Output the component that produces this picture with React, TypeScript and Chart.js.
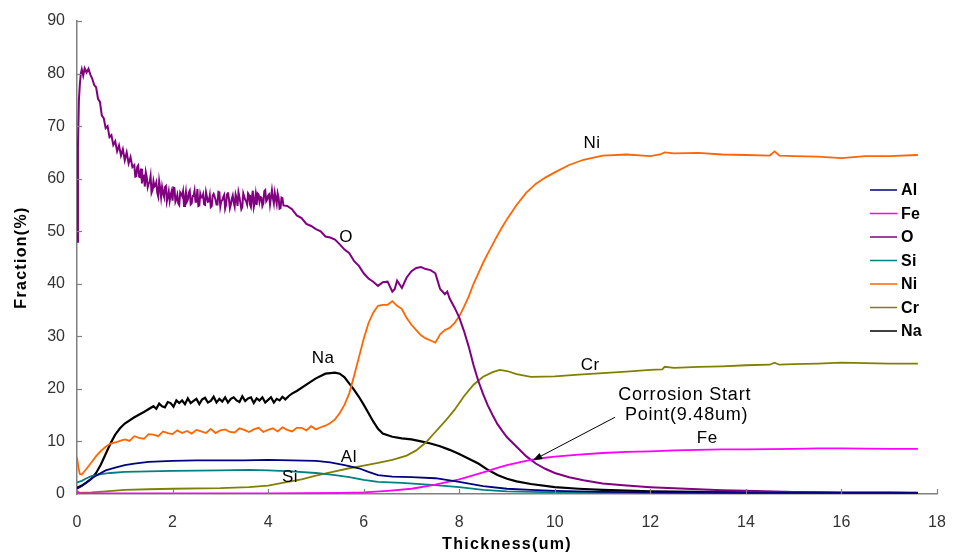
import React, { useEffect, useRef } from "react";
import { Chart, registerables } from "chart.js";

Chart.register(...registerables);

// ---- axis ranges / ticks ----
const X_MIN = 0;
const X_MAX = 18;
const X_STEP = 2;
const Y_MIN = 0;
const Y_MAX = 90;
const Y_STEP = 10;

const X_TITLE = "Thickness(um)";
const Y_TITLE = "Fraction(%)";

// ---- series data: [thickness(um), fraction(%)] ----
const aluminium: [number, number][] = [
  [0, 1.0], [0.1, 1.5], [0.2, 2.2], [0.3, 2.9], [0.4, 3.5], [0.5, 4.0], [0.6, 4.5], [0.8, 5.0],
  [1.0, 5.5], [1.2, 5.8], [1.5, 6.1], [2.0, 6.3], [2.5, 6.4], [3.0, 6.4], [3.5, 6.4], [4.0, 6.5],
  [4.5, 6.4], [5.0, 6.3], [5.3, 6.0], [5.6, 5.5], [5.9, 4.9], [6.1, 4.2], [6.3, 3.6], [6.6, 3.3],
  [7.0, 3.2], [7.5, 3.0], [8.0, 2.3], [8.5, 1.5], [9.0, 1.0], [9.5, 0.8], [10, 0.6], [11, 0.4],
  [12, 0.3], [14, 0.2], [17.6, 0.2],
];

const iron: [number, number][] = [
  [0, 0.6], [0.05, 0.1], [0.5, 0.1], [2, 0.1], [4, 0.1], [5.5, 0.2], [6.0, 0.3], [6.5, 0.6],
  [7.0, 1.0], [7.5, 1.8], [8.0, 2.8], [8.5, 4.1], [8.85, 5.1], [9.0, 5.5], [9.3, 6.1], [9.5, 6.5],
  [9.8, 6.9], [10.0, 7.1], [10.5, 7.5], [11.0, 7.8], [11.5, 8.0], [12.0, 8.1], [12.5, 8.3],
  [13.0, 8.4], [13.5, 8.5], [14.0, 8.5], [15.0, 8.6], [15.5, 8.7], [16.0, 8.7], [17.0, 8.6], [17.6, 8.6],
];

const oxygen: [number, number][] = [
  [0, 48], [0.02, 66], [0.04, 75], [0.06, 78], [0.08, 80], [0.1, 80.8], [0.13, 79.6], [0.16, 81],
  [0.2, 80.2], [0.24, 80.9], [0.28, 79.8], [0.32, 79], [0.36, 77.8],
  [0.4, 77.4], [0.44, 75.2], [0.48, 74.6], [0.52, 72.0], [0.56, 71.5], [0.6, 69.6], [0.64, 70.0],
  [0.68, 67.9], [0.72, 68.3], [0.76, 66.4], [0.8, 67.1], [0.84, 65.2], [0.88, 66.3], [0.92, 64.4],
  [0.96, 65.6], [1.0, 63.5], [1.04, 65.0], [1.08, 62.9], [1.12, 64.1], [1.16, 62.2],
  [1.20, 62.6], [1.22, 60.4], [1.24, 60.5], [1.26, 62.2], [1.28, 62.5], [1.30, 60.4], [1.32, 60.3],
  [1.34, 61.9], [1.36, 59.1], [1.38, 60.6], [1.40, 60.6], [1.42, 58.5], [1.44, 61.2], [1.46, 60.3],
  [1.48, 58.4], [1.50, 59.1], [1.52, 59.3], [1.54, 60.5], [1.56, 57.3], [1.58, 57.8], [1.60, 59.5],
  [1.62, 58.5], [1.64, 58.7], [1.66, 59.3], [1.68, 57.3], [1.70, 56.6], [1.72, 59.5], [1.74, 58.2],
  [1.76, 56.5], [1.78, 58.4], [1.80, 57.2], [1.82, 56.6], [1.84, 58.4], [1.86, 58.6], [1.88, 55.7],
  [1.90, 56.6], [1.92, 57.6], [1.94, 55.8], [1.96, 56.9], [1.98, 57.6], [2.00, 55.8], [2.02, 58.3],
  [2.04, 58.2], [2.06, 55.6], [2.08, 56.1], [2.10, 56.9], [2.12, 55.3], [2.14, 55.0], [2.16, 57.4],
  [2.18, 57.1], [2.20, 56.7], [2.22, 57.6], [2.24, 54.8], [2.26, 56.1], [2.28, 57.5], [2.30, 55.6],
  [2.32, 56.0], [2.34, 57.3], [2.36, 57.7], [2.38, 55.1], [2.40, 55.3], [2.42, 56.7], [2.44, 56.7],
  [2.46, 57.7], [2.48, 55.6], [2.50, 55.6], [2.52, 58.0], [2.54, 54.8], [2.56, 54.9], [2.58, 57.1],
  [2.60, 56.4], [2.62, 56.4], [2.64, 57.0], [2.66, 55.1], [2.68, 55.0], [2.70, 57.4], [2.72, 57.4],
  [2.74, 55.6], [2.76, 55.7], [2.78, 56.8], [2.80, 54.6], [2.82, 54.8], [2.84, 56.8], [2.86, 57.1],
  [2.88, 56.6], [2.90, 56.0], [2.92, 55.1], [2.94, 55.1], [2.96, 57.5], [2.98, 57.4], [3.00, 54.7],
  [3.02, 55.7], [3.04, 55.9], [3.06, 56.5], [3.08, 56.9], [3.10, 54.3], [3.12, 55.0], [3.14, 57.0],
  [3.16, 57.4], [3.18, 56.1], [3.20, 54.4], [3.22, 55.1], [3.24, 56.2], [3.26, 56.8], [3.28, 55.5],
  [3.30, 54.7], [3.32, 57.0], [3.34, 56.3], [3.36, 54.8], [3.38, 57.4], [3.40, 56.5], [3.42, 55.4],
  [3.44, 54.2], [3.46, 54.6], [3.48, 57.2], [3.50, 56.6], [3.52, 56.0], [3.54, 55.7], [3.56, 55.1],
  [3.58, 57.2], [3.60, 56.9], [3.62, 55.1], [3.64, 54.6], [3.66, 56.4], [3.68, 57.7], [3.70, 54.6],
  [3.72, 55.5], [3.74, 57.0], [3.76, 55.0], [3.78, 57.2], [3.80, 57.0], [3.82, 55.6], [3.84, 56.5],
  [3.86, 56.4], [3.88, 54.8], [3.90, 55.3], [3.92, 57.6], [3.94, 57.8], [3.96, 55.7], [3.98, 56.0],
  [4.00, 56.8], [4.02, 57.0], [4.04, 55.1], [4.06, 55.1], [4.08, 57.8], [4.10, 56.3], [4.12, 55.3],
  [4.14, 57.3], [4.16, 56.2], [4.18, 55.2], [4.20, 57.2], [4.22, 56.4], [4.24, 54.3], [4.26, 54.4],
  [4.28, 56.4], [4.30, 56.3], [4.32, 54.9],
  [4.4, 54.8], [4.5, 54.2], [4.6, 53.0], [4.7, 52.5], [4.8, 51.4],
  [4.9, 51.0], [5.0, 50.4], [5.1, 50.0], [5.2, 49.0], [5.3, 48.8], [5.4, 48.4], [5.5, 47.5],
  [5.6, 46.5], [5.7, 45.8], [5.8, 44.3], [5.9, 43.4], [6.0, 42.0], [6.1, 41.0], [6.2, 40.4],
  [6.3, 39.6], [6.4, 40.3], [6.5, 40.4], [6.6, 38.5], [6.65, 39.0], [6.7, 40.6], [6.8, 39.2],
  [6.9, 41.2], [7.0, 42.4], [7.1, 43.0], [7.2, 43.2], [7.3, 42.8], [7.4, 42.6], [7.5, 42.0],
  [7.55, 40.5], [7.6, 39.0], [7.7, 38.0], [7.75, 38.5], [7.8, 37.2], [7.9, 35.5], [8.0, 33.6],
  [8.1, 31.0], [8.2, 28.0], [8.3, 24.5], [8.4, 21.5], [8.5, 19.0], [8.6, 16.8], [8.7, 15.0],
  [8.8, 13.3], [8.9, 12.0], [9.0, 10.8], [9.2, 9.0], [9.4, 7.2], [9.6, 5.8], [9.8, 4.8],
  [10.0, 4.0], [10.3, 3.2], [10.6, 2.6], [11.0, 2.0], [11.5, 1.6], [12.0, 1.3], [12.5, 1.1],
  [13.0, 0.9], [13.5, 0.7], [14.0, 0.6], [15.0, 0.4], [16.0, 0.3], [17.0, 0.3], [17.6, 0.2],
];

const silicon: [number, number][] = [
  [0, 2.2], [0.1, 2.5], [0.2, 3.0], [0.3, 3.4], [0.5, 3.8], [0.7, 4.0], [1.0, 4.2], [1.5, 4.3],
  [2.0, 4.4], [3.0, 4.5], [3.6, 4.6], [4.0, 4.5], [4.5, 4.3], [5.0, 4.0], [5.4, 3.6], [5.7, 3.2],
  [6.0, 2.7], [6.3, 2.3], [6.8, 2.1], [7.5, 1.7], [8.0, 1.3], [8.5, 0.8], [9.0, 0.5], [10, 0.3],
  [12, 0.2], [17.6, 0.1],
];

const nickel: [number, number][] = [
  [0, 7], [0.03, 5], [0.06, 3.8], [0.1, 3.7], [0.2, 4.8], [0.3, 6], [0.4, 7.2], [0.5, 8.2],
  [0.6, 9.0], [0.7, 9.6], [0.8, 9.8], [0.9, 10.1],
  [1.0, 10.4], [1.1, 10.1], [1.2, 11.0], [1.3, 10.7], [1.4, 10.5], [1.5, 11.4], [1.6, 11.3],
  [1.7, 11.0], [1.8, 11.9], [1.9, 11.6], [2.0, 11.4], [2.1, 12.1], [2.2, 11.6], [2.3, 12.0],
  [2.4, 11.5], [2.5, 12.2], [2.6, 11.9], [2.7, 11.6], [2.8, 12.4], [2.9, 11.6], [3.0, 12.1],
  [3.1, 12.3], [3.2, 11.8], [3.3, 11.7], [3.4, 12.5], [3.5, 12.2], [3.6, 11.8], [3.7, 12.3],
  [3.8, 12.6], [3.9, 11.8], [4.0, 12.2], [4.1, 12.5], [4.2, 11.9], [4.3, 12.7], [4.4, 12.2],
  [4.5, 11.9], [4.6, 12.6], [4.7, 12.6], [4.8, 12.1], [4.9, 12.9], [5.0, 12.3], [5.1, 12.7],
  [5.2, 13.0], [5.3, 13.5], [5.4, 14.2],
  [5.5, 15.4], [5.6, 17.0], [5.7, 19.2], [5.8, 22.5], [5.9, 26.0], [6.0, 29.5], [6.1, 32.5],
  [6.2, 34.5], [6.3, 35.8], [6.4, 36.0], [6.5, 36.0], [6.6, 36.7], [6.7, 35.8], [6.8, 35.2],
  [6.9, 33.5], [7.0, 32.2], [7.1, 31.2], [7.2, 30.2], [7.3, 29.6], [7.4, 29.2], [7.5, 28.8],
  [7.6, 30.4], [7.7, 31.2], [7.8, 31.6], [7.9, 32.5], [8.0, 33.8], [8.1, 35.6], [8.2, 37.6],
  [8.3, 40.0], [8.4, 42.0], [8.5, 44.0], [8.6, 45.8], [8.7, 47.5], [8.8, 49.2], [8.9, 50.8],
  [9.0, 52.3], [9.2, 55.0], [9.4, 57.3], [9.6, 59.0], [9.8, 60.2], [10.0, 61.2], [10.3, 62.6],
  [10.6, 63.6], [11.0, 64.4], [11.5, 64.6], [12.0, 64.3], [12.2, 64.6], [12.3, 65.0], [12.5, 64.8],
  [13.0, 64.9], [13.5, 64.6], [14.0, 64.5], [14.5, 64.4], [14.6, 65.2], [14.7, 64.4], [15.0, 64.3],
  [15.5, 64.2], [16.0, 63.9], [16.5, 64.3], [17.0, 64.3], [17.6, 64.5],
];

const chromium: [number, number][] = [
  [0, 0.2], [0.3, 0.3], [0.6, 0.5], [1.0, 0.8], [1.5, 0.9], [2.0, 1.0], [3.0, 1.1], [3.6, 1.3],
  [4.0, 1.6], [4.3, 2.1], [4.7, 2.8], [5.0, 3.5], [5.4, 4.3], [5.7, 4.9], [6.0, 5.4], [6.3, 5.9],
  [6.6, 6.5], [6.9, 7.3], [7.1, 8.3], [7.3, 9.8], [7.5, 11.8], [7.7, 13.8], [7.9, 16.0],
  [8.1, 18.6], [8.3, 20.8], [8.5, 22.3], [8.7, 23.2], [8.85, 23.6], [9.0, 23.4], [9.2, 22.8],
  [9.5, 22.3], [10.0, 22.4], [10.5, 22.7], [11.0, 23.0], [11.5, 23.3], [12.0, 23.6], [12.25, 23.7],
  [12.3, 24.2], [12.5, 24.0], [13.0, 24.2], [13.5, 24.3], [14.0, 24.5], [14.5, 24.6], [14.6, 25.0],
  [14.7, 24.6], [15.0, 24.7], [15.5, 24.8], [16.0, 25.0], [16.5, 24.9], [17.0, 24.8], [17.6, 24.8],
];

const sodium: [number, number][] = [
  [0, 1.2], [0.1, 1.6], [0.2, 2.2], [0.3, 2.9], [0.4, 4.0], [0.5, 5.6], [0.6, 7.6], [0.7, 9.6],
  [0.8, 11.3], [0.9, 12.5], [1.0, 13.4], [1.2, 14.6], [1.4, 15.6],
  [1.60, 16.7], [1.66, 16.2], [1.72, 17.2], [1.78, 16.7], [1.84, 16.5], [1.90, 17.5], [1.96, 17.3],
  [2.02, 16.6], [2.08, 17.8], [2.14, 17.3], [2.20, 17.8], [2.26, 17.1], [2.32, 18.2], [2.38, 17.3],
  [2.44, 17.7], [2.50, 18.1], [2.56, 17.1], [2.62, 18.0], [2.68, 18.3], [2.74, 17.4], [2.80, 17.7],
  [2.86, 18.5], [2.92, 17.4], [2.98, 18.1], [3.04, 17.6], [3.10, 18.4], [3.16, 17.4], [3.22, 18.1],
  [3.28, 18.4], [3.34, 17.8], [3.40, 17.5], [3.46, 18.6], [3.52, 17.7], [3.58, 18.2], [3.64, 18.4],
  [3.70, 17.3], [3.76, 18.2], [3.82, 17.8], [3.88, 18.4], [3.94, 17.4], [4.00, 17.9], [4.06, 18.4],
  [4.12, 17.4], [4.18, 18.1], [4.24, 17.8], [4.30, 18.5], [4.36, 18.0], [4.44, 18.7], [4.5, 19.1],
  [4.6, 19.6], [4.8, 20.8], [5.0, 22.0], [5.2, 22.9], [5.4, 23.1], [5.5, 22.9], [5.6, 22.2],
  [5.7, 21.0], [5.8, 19.8], [5.9, 18.5], [6.0, 17.0], [6.1, 15.4], [6.2, 13.8], [6.3, 12.4],
  [6.4, 11.5], [6.6, 10.9], [6.8, 10.6], [7.0, 10.4], [7.2, 10.0], [7.4, 9.6], [7.6, 9.1],
  [7.8, 8.4], [8.0, 7.6], [8.2, 6.7], [8.4, 5.8], [8.6, 4.6], [8.8, 3.6], [9.0, 2.9], [9.2, 2.4],
  [9.5, 1.9], [10.0, 1.3], [10.5, 1.0], [11, 0.8], [12, 0.5], [13, 0.4], [14, 0.3], [15, 0.3],
  [16, 0.2], [17.6, 0.2],
];

const SERIES_NAMES = ["Al", "Fe", "O", "Si", "Ni", "Cr", "Na"];
const SERIES_DATA = [aluminium, iron, oxygen, silicon, nickel, chromium, sodium];
const SERIES_COLORS = ["#000080", "#FF00FF", "#800080", "#008080", "#FF6600", "#808000", "#000000"];

// inline series labels, in data coordinates
const INLINE_LABELS: { text: string; x: number; y: number }[] = [
  { text: "Ni", x: 10.78, y: 66.8 },
  { text: "O", x: 5.63, y: 48.9 },
  { text: "Na", x: 5.15, y: 25.9 },
  { text: "Al", x: 5.69, y: 7.0 },
  { text: "Si", x: 4.46, y: 3.2 },
  { text: "Cr", x: 10.74, y: 24.4 },
  { text: "Fe", x: 13.19, y: 10.6 },
];

const NOTE_LINES = ["Corrosion Start", "Point(9.48um)"];
const NOTE_POS = [{ x: 12.72, y: 18.8 }, { x: 12.76, y: 15.0 }];
const ARROW_FROM = { x: 11.26, y: 14.6 };
const ARROW_TO = { x: 9.54, y: 6.4 };

const FONT = "'Liberation Sans', Arial, sans-serif";

const decorPlugin = {
  id: "decor",
  afterDraw(chart: any) {
    const ctx: CanvasRenderingContext2D = chart.ctx;
    const xs = chart.scales.x;
    const ys = chart.scales.y;
    const area = chart.chartArea;
    ctx.save();

    // inward tick marks
    ctx.strokeStyle = "#808080";
    ctx.lineWidth = 1.2;
    for (let v = X_MIN + X_STEP; v <= X_MAX; v += X_STEP) {
      const px = Math.round(xs.getPixelForValue(v)) + 0.5;
      ctx.beginPath();
      ctx.moveTo(px, area.bottom);
      ctx.lineTo(px, area.bottom - 5);
      ctx.stroke();
    }
    for (let v = Y_MIN + Y_STEP; v <= Y_MAX; v += Y_STEP) {
      const py = Math.round(ys.getPixelForValue(v)) + 0.5;
      ctx.beginPath();
      ctx.moveTo(area.left, py);
      ctx.lineTo(area.left + 5, py);
      ctx.stroke();
    }

    // axis titles
    ctx.fillStyle = "#000";
    ctx.font = `bold 16px ${FONT}`;
    (ctx as any).letterSpacing = "1.3px";
    ctx.textAlign = "center";
    ctx.textBaseline = "middle";
    ctx.fillText(X_TITLE, (area.left + area.right) / 2, 545);
    ctx.save();
    ctx.translate(22, (area.top + area.bottom) / 2);
    ctx.rotate(-Math.PI / 2);
    ctx.fillText(Y_TITLE, 0, 0);
    ctx.restore();

    // legend
    ctx.font = `bold 16px ${FONT}`;
    (ctx as any).letterSpacing = "0.3px";
    ctx.textAlign = "left";
    SERIES_NAMES.forEach((name, i) => {
      const y = 190 + i * 23.5;
      ctx.strokeStyle = SERIES_COLORS[i];
      ctx.lineWidth = 1.5;
      ctx.beginPath();
      ctx.moveTo(870, y);
      ctx.lineTo(897, y);
      ctx.stroke();
      ctx.fillStyle = "#000";
      ctx.fillText(name, 901, y + 1);
    });

    // inline labels
    ctx.font = `17px ${FONT}`;
    (ctx as any).letterSpacing = "0.5px";
    ctx.textAlign = "center";
    INLINE_LABELS.forEach((l) => {
      ctx.fillText(l.text, xs.getPixelForValue(l.x), ys.getPixelForValue(l.y));
    });

    // annotation
    ctx.font = `18px ${FONT}`;
    (ctx as any).letterSpacing = "0.8px";
    NOTE_LINES.forEach((t, i) => {
      ctx.fillText(t, xs.getPixelForValue(NOTE_POS[i].x), ys.getPixelForValue(NOTE_POS[i].y));
    });
    (ctx as any).letterSpacing = "0px";

    const x1 = xs.getPixelForValue(ARROW_FROM.x);
    const y1 = ys.getPixelForValue(ARROW_FROM.y);
    const x2 = xs.getPixelForValue(ARROW_TO.x);
    const y2 = ys.getPixelForValue(ARROW_TO.y);
    const ang = Math.atan2(y2 - y1, x2 - x1);
    ctx.strokeStyle = "#000";
    ctx.lineWidth = 1;
    ctx.beginPath();
    ctx.moveTo(x1, y1);
    ctx.lineTo(x2 - 6 * Math.cos(ang), y2 - 6 * Math.sin(ang));
    ctx.stroke();
    ctx.beginPath();
    ctx.moveTo(x2, y2);
    ctx.lineTo(x2 - 10 * Math.cos(ang - 0.35), y2 - 10 * Math.sin(ang - 0.35));
    ctx.lineTo(x2 - 10 * Math.cos(ang + 0.35), y2 - 10 * Math.sin(ang + 0.35));
    ctx.closePath();
    ctx.fillStyle = "#000";
    ctx.fill();

    ctx.restore();
  },
};

export default function App() {
  const ref = useRef<HTMLCanvasElement | null>(null);

  useEffect(() => {
    document.body.style.margin = "0";
    const canvas = ref.current;
    if (!canvas) return;
    const chart = new Chart(canvas, {
      type: "line",
      data: {
        datasets: SERIES_NAMES.map((name, i) => ({
          label: name,
          data: SERIES_DATA[i].map(([x, y]) => ({ x, y })),
          borderColor: SERIES_COLORS[i],
          backgroundColor: SERIES_COLORS[i],
          borderWidth: name === "Na" ? 2.2 : name === "O" ? 2 : 1.8,
          pointRadius: 0,
          tension: 0,
          fill: false,
        })),
      },
      options: {
        animation: false,
        responsive: false,
        maintainAspectRatio: false,
        layout: { padding: { top: 21, right: 16, left: 0, bottom: 0 } },
        plugins: { legend: { display: false }, tooltip: { enabled: false } },
        scales: {
          x: {
            type: "linear",
            min: X_MIN,
            max: X_MAX,
            ticks: {
              stepSize: X_STEP,
              color: "#333",
              font: { family: FONT, size: 16 },
              padding: 19,
              maxRotation: 0,
            },
            grid: { display: false, drawTicks: false },
            border: { display: true, color: "#808080", width: 1.5 },
            afterFit: (s: any) => {
              s.height = 65;
              s.paddingLeft = 0;
              s.paddingRight = 0;
            },
          },
          y: {
            type: "linear",
            min: Y_MIN,
            max: Y_MAX,
            ticks: {
              stepSize: Y_STEP,
              color: "#333",
              font: { family: FONT, size: 16 },
              padding: 12,
            },
            grid: { display: false, drawTicks: false },
            border: { display: true, color: "#808080", width: 1.5 },
            afterFit: (s: any) => {
              s.width = 77;
              s.paddingTop = 0;
              s.paddingBottom = 0;
            },
          },
        },
      },
      plugins: [decorPlugin],
    });
    return () => chart.destroy();
  }, []);

  return (
    <div style={{ width: 953, height: 559 }}>
      <canvas ref={ref} width={953} height={559} style={{ display: "block" }} />
    </div>
  );
}
